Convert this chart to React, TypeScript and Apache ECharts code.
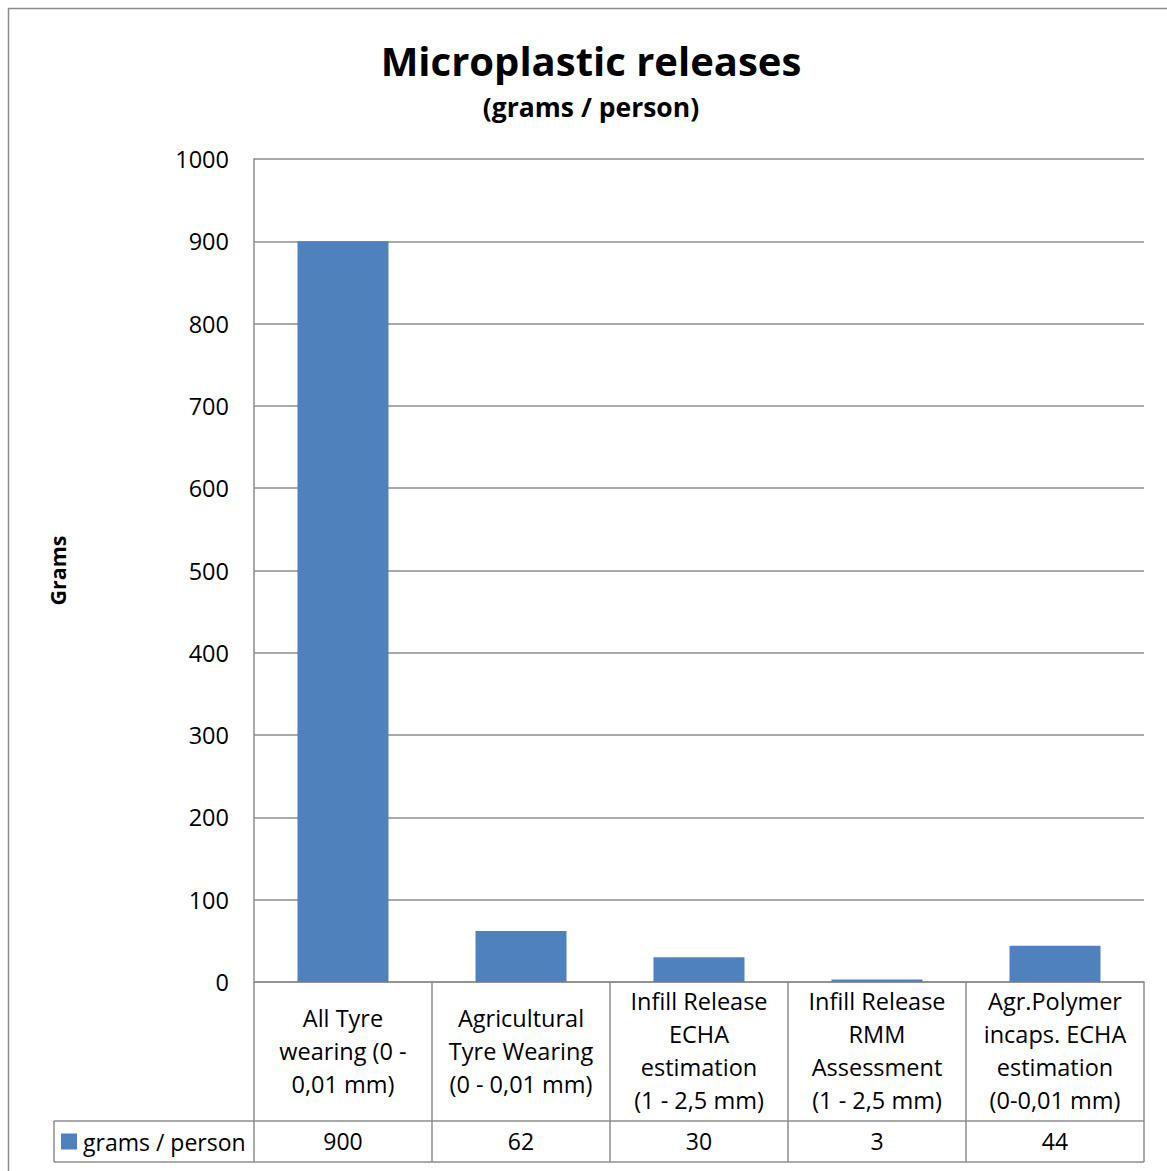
import React, { useEffect, useRef } from "react";
import * as echarts from "echarts";

const categories = [
  "All Tyre\nwearing (0 -\n0,01 mm)",
  "Agricultural\nTyre Wearing\n(0 - 0,01 mm)",
  "Infill Release\nECHA\nestimation\n(1 - 2,5 mm)",
  "Infill Release\nRMM\nAssessment\n(1 - 2,5 mm)",
  "Agr.Polymer\nincaps. ECHA\nestimation\n(0-0,01 mm)",
];
const values = [900, 62, 30, 3, 44];
const seriesName = "grams / person";
const titleText = "Microplastic releases";
const subtitleText = "(grams / person)";
const yAxisName = "Grams";
const yMin = 0;
const yMax = 1000;
const yStep = 100;

const FONT = "'Open Sans', 'Noto Sans', sans-serif";
const GRAY = "#8c8c8c";

export default function App() {
  const ref = useRef<HTMLDivElement>(null);
  useEffect(() => {
    if (!ref.current) return;
    const chart = echarts.init(ref.current, undefined, { renderer: "svg" });
    const gridLeft = 254;
    const gridTop = 159;
    const gridRight = 1144;
    const gridBottom = 982;
    const labelCellH = 139;
    const rowTop = gridBottom + labelCellH;
    const rowBottom = 1162;
    const legendLeft = 54;
    chart.setOption({
      animation: false,
      textStyle: { fontFamily: FONT, color: "#000" },
      grid: {
        left: gridLeft,
        top: gridTop,
        width: gridRight - gridLeft,
        height: gridBottom - gridTop,
        containLabel: false,
      },
      legend: {
        show: true,
        left: 61,
        top: rowTop + 9,
        padding: 0,
        icon: "rect",
        itemWidth: 16,
        itemHeight: 16,
        textStyle: { fontSize: 23, color: "#000", fontFamily: FONT, padding: [0, 0, 0, 1] },
        data: [seriesName],
      },
      xAxis: [
        {
          type: "category",
          data: categories,
          position: "bottom",
          axisLine: { show: true, lineStyle: { color: GRAY, width: 1.5 } },
          axisTick: {
            show: true,
            alignWithLabel: false,
            length: rowBottom - gridBottom,
            lineStyle: { color: GRAY, width: 1.5 },
          },
          axisLabel: {
            interval: 0,
            margin: labelCellH / 2 - 1,
            verticalAlign: "middle",
            fontSize: 23.5,
            lineHeight: 33,
            color: "#000",
            fontFamily: FONT,
          },
        },
        {
          type: "category",
          data: values.map(String),
          position: "bottom",
          axisLine: { show: false },
          axisTick: { show: false },
          axisLabel: {
            interval: 0,
            margin: labelCellH + (rowBottom - rowTop) / 2 - 1,
            verticalAlign: "middle",
            fontSize: 23,
            color: "#000",
            fontFamily: FONT,
          },
        },
      ],
      yAxis: {
        type: "value",
        min: yMin,
        max: yMax,
        interval: yStep,
        name: yAxisName,
        nameLocation: "middle",
        nameGap: 186,
        nameTextStyle: { fontSize: 21.5, fontWeight: "bold", color: "#000", fontFamily: FONT },
        axisLine: { show: true, lineStyle: { color: GRAY, width: 1.5 } },
        axisTick: { show: false },
        splitLine: { show: true, lineStyle: { color: GRAY, width: 1.5 } },
        axisLabel: {
          fontSize: 23.5,
          margin: 25,
          color: "#000",
          fontFamily: FONT,
          formatter: (v: number) => String(v),
        },
      },
      series: [
        {
          name: seriesName,
          type: "bar",
          xAxisIndex: 0,
          data: values,
          barWidth: 91,
          itemStyle: { color: "#4F81BD" },
        },
      ],
      graphic: [
        {
          type: "text",
          x: 591,
          y: 60,
          style: {
            text: titleText,
            font: `bold 40px ${FONT}`,
            fill: "#000",
            align: "center",
            verticalAlign: "middle",
          },
        },
        {
          type: "text",
          x: 591,
          y: 107,
          style: {
            text: subtitleText,
            font: `bold 26.5px ${FONT}`,
            fill: "#000",
            align: "center",
            verticalAlign: "middle",
          },
        },
        {
          type: "line",
          shape: { x1: 8.5, y1: 8, x2: 8.5, y2: 1171 },
          style: { stroke: GRAY, lineWidth: 1.5 },
        },
        {
          type: "line",
          shape: { x1: 8, y1: 8.5, x2: 1167, y2: 8.5 },
          style: { stroke: GRAY, lineWidth: 1.5 },
        },
        {
          type: "line",
          shape: { x1: legendLeft, y1: rowTop, x2: gridRight, y2: rowTop },
          style: { stroke: GRAY, lineWidth: 1.5 },
        },
        {
          type: "line",
          shape: { x1: legendLeft, y1: rowBottom, x2: gridRight, y2: rowBottom },
          style: { stroke: GRAY, lineWidth: 1.5 },
        },
        {
          type: "line",
          shape: { x1: legendLeft, y1: rowTop, x2: legendLeft, y2: rowBottom },
          style: { stroke: GRAY, lineWidth: 1.5 },
        },
      ],
    });
    return () => chart.dispose();
  }, []);
  return (
    <div
      ref={ref}
      style={{ position: "absolute", left: 0, top: 0, width: 1167, height: 1171, background: "#fff" }}
    />
  );
}
